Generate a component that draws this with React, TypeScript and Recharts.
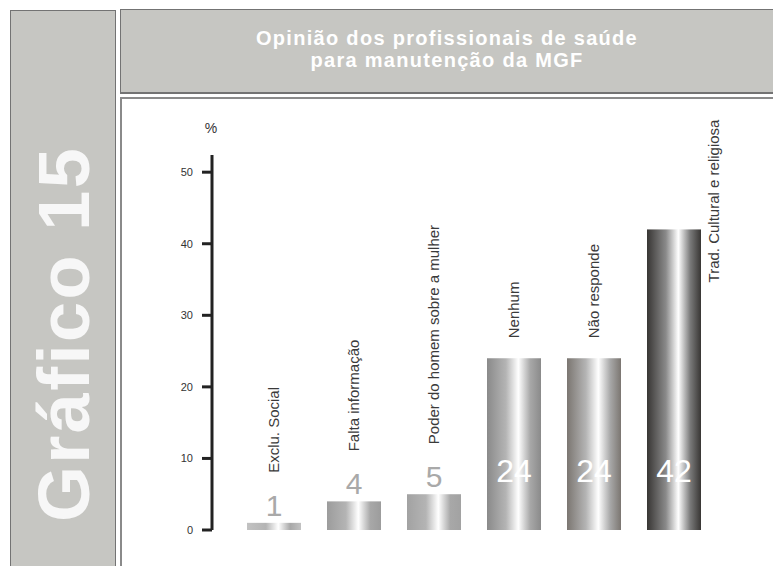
import React from 'react';
import { BarChart, Bar, XAxis, YAxis, LabelList } from 'recharts';

const categories = [
  'Exclu. Social',
  'Falta informação',
  'Poder do homem sobre a mulher',
  'Nenhum',
  'Não responde',
  'Trad. Cultural e religiosa',
];
const percentages = [1, 4, 5, 24, 24, 42];
const yTicks = [0, 10, 20, 30, 40, 50];

const data = categories.map((name, i) => ({ name, value: percentages[i] }));

// edge tone of each cylinder, light to dark
const barTones = ['#c2c2c2', '#9c9c9c', '#a2a2a2', '#8a8a8a', '#7b7671', '#383634'];

const FONT = '"Liberation Sans", Arial, sans-serif';
const PANEL = '#c6c6c2';
const BORDER = '#737373';

const ValueLabel = (props: any) => {
  const { x, y, width, height, value } = props;
  const cx = x + width / 2;
  const bottom = y + height;
  if (value >= 10) {
    return (
      <text x={cx} y={bottom - 48} textAnchor="middle" fontSize={32} fill="#ffffff" fontFamily={FONT}>
        {value}
      </text>
    );
  }
  return (
    <text x={cx} y={y - 7} textAnchor="middle" fontSize={30} fill="#a9a9a9" fontFamily={FONT}>
      {value}
    </text>
  );
};

const NameLabel = (props: any) => {
  const { x, y, width, value, index } = props;
  const v = percentages[index];
  const approxLen = String(value).length * 6.4;
  let tx = x + width / 2;
  let ty = v < 10 ? y - 50 : y - 20;
  // no room above the bar: set it beside
  if (ty - approxLen < 100) {
    tx = x + width + 13;
    ty = y + 53;
  }
  return (
    <text
      x={tx}
      y={ty}
      transform={`rotate(-90, ${tx}, ${ty})`}
      textAnchor="start"
      dominantBaseline="central"
      fontSize={15}
      fill="#3a3a3a"
      fontFamily={FONT}
    >
      {value}
    </text>
  );
};

const PercentLabel = (props: any) => {
  const { viewBox } = props;
  const ax = viewBox.x + viewBox.width;
  return (
    <text x={ax - 1} y={viewBox.y - 22} textAnchor="middle" fontSize={14} fill="#333" fontFamily={FONT}>
      %
    </text>
  );
};

export default function App() {
  return (
    <div style={{ position: 'absolute', left: 0, top: 0, width: 773, height: 566, background: '#fff', overflow: 'hidden', fontFamily: FONT }}>
      {/* side panel */}
      <div
        style={{
          position: 'absolute', left: 10, top: 10, width: 104, height: 570,
          background: PANEL, border: `1px solid ${BORDER}`,
        }}
      />
      <div
        style={{
          position: 'absolute', left: 64, top: 334, transform: 'translate(-50%, -50%) rotate(-90deg)',
          whiteSpace: 'nowrap', color: '#f7f7f7', fontSize: 72, fontWeight: 'bold', lineHeight: 1,
          letterSpacing: 2.4,
        }}
      >
        Gráfico 15
      </div>

      {/* header */}
      <div
        style={{
          position: 'absolute', left: 120, top: 9, width: 660, height: 82,
          background: PANEL, border: `1px solid ${BORDER}`, borderBottomWidth: 2,
        }}
      />
      <div
        style={{
          position: 'absolute', left: 121, top: 27, width: 652, textAlign: 'center',
          color: '#ffffff', fontSize: 20, fontWeight: 'bold', lineHeight: '22px', letterSpacing: 1.3,
        }}
      >
        Opinião dos profissionais de saúde
        <br />
        para manutenção da MGF
      </div>

      {/* frame of the plot area */}
      <div style={{ position: 'absolute', left: 120, top: 97, width: 660, height: 2, background: '#8a8a8a' }} />
      <div style={{ position: 'absolute', left: 120, top: 97, width: 2, height: 480, background: '#8a8a8a' }} />

      <div style={{ position: 'absolute', left: 0, top: 0 }}>
        <BarChart
          width={773}
          height={566}
          data={data}
          margin={{ top: 155, right: 38, bottom: 36, left: 152 }}
        >
          <defs>
            {barTones.map((tone, i) => (
              <linearGradient key={i} id={`cyl-${i}`} x1="0" y1="0" x2="1" y2="0">
                <stop offset="0%" stopColor={tone} />
                <stop offset="35%" stopColor={i === 5 ? '#8a8a8a' : '#b4b4b4'} />
                <stop offset="58%" stopColor="#ffffff" />
                <stop offset="80%" stopColor={i === 5 ? '#7a7a7a' : '#a8a8a8'} />
                <stop offset="100%" stopColor={tone} />
              </linearGradient>
            ))}
          </defs>
          <XAxis
            dataKey="name"
            height={0}
            tick={false}
            tickLine={false}
            padding={{ left: 22, right: 21 }}
            axisLine={{ stroke: '#222', strokeWidth: 3 }}
          />
          <YAxis
            width={60}
            domain={[0, 52.4]}
            ticks={yTicks}
            interval={0}
            tickSize={10}
            tickMargin={9}
            tickLine={{ stroke: '#222', strokeWidth: 3 }}
            axisLine={{ stroke: '#222', strokeWidth: 3 }}
            tick={{ fill: '#333', fontSize: 11, fontFamily: FONT }}
            label={<PercentLabel />}
          />
          <Bar dataKey="value" barSize={54} isAnimationActive={false} shape={(p: any) => (
            <rect x={p.x} y={p.y} width={p.width} height={p.height} fill={`url(#cyl-${p.index})`} />
          )}>
            <LabelList dataKey="value" content={<ValueLabel />} />
            <LabelList dataKey="name" content={<NameLabel />} />
          </Bar>
        </BarChart>
      </div>
    </div>
  );
}
